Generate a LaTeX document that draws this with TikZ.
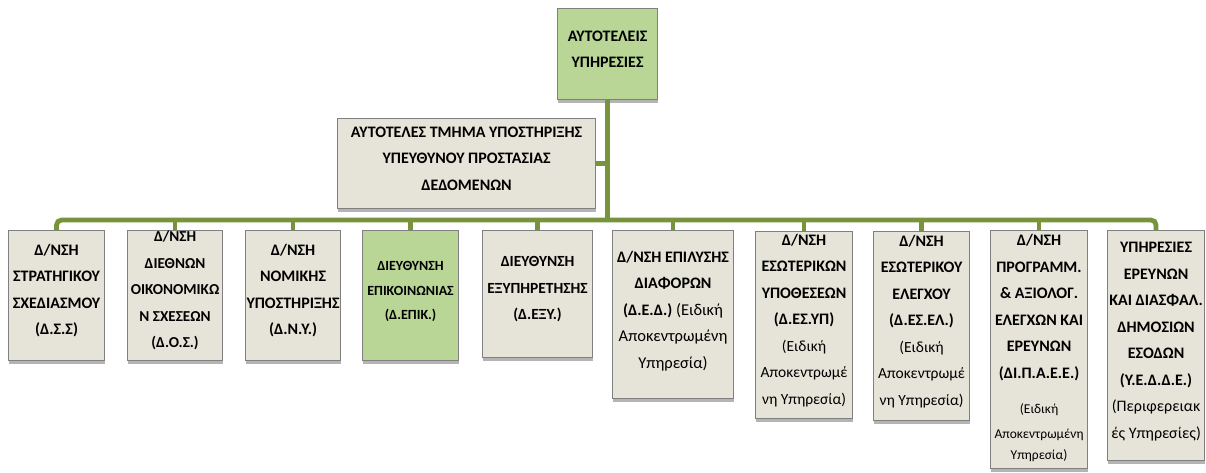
\documentclass[tikz,border=0pt]{standalone}
\usepackage{fontspec}
\setmainfont{Carlito}
\usetikzlibrary{shadows}
\definecolor{beige}{HTML}{E6E4D8}
\definecolor{lgreen}{HTML}{B9D697}
\definecolor{busgreen}{HTML}{77933C}
\definecolor{bord}{HTML}{808080}
\begin{document}
\begin{tikzpicture}[x=1pt,y=-1pt,
  box/.style={draw=bord, line width=1.1pt, fill=beige, anchor=north west, inner sep=0pt,
    align=center, text depth=10pt, font=\fontsize{16}{26.5}\selectfont\bfseries,
    drop shadow={shadow xshift=0.5pt, shadow yshift=-3pt, opacity=0.45, fill=black!65}},
  gbox/.style={box, fill=lgreen},
  conn/.style={draw=busgreen, line width=4.8pt}]
\path[use as bounding box] (0,0) rectangle (1206,472);
\node[gbox, minimum width=100pt, minimum height=91pt] (top) at (557,8) {ΑΥΤΟΤΕΛΕΙΣ\\ΥΠΗΡΕΣΙΕΣ};
\node[box, minimum width=258pt, minimum height=90pt] (data) at (337,118) {ΑΥΤΟΤΕΛΕΣ ΤΜΗΜΑ ΥΠΟΣΤΗΡΙΞΗΣ\\ΥΠΕΥΘΥΝΟΥ ΠΡΟΣΤΑΣΙΑΣ\\ΔΕΔΟΜΕΝΩΝ};
\node[box, minimum width=96pt, minimum height=130pt, text depth=12pt] (b1) at (8,230) {Δ/ΝΣΗ\\ΣΤΡΑΤΗΓΙΚΟΥ\\ΣΧΕΔΙΑΣΜΟΥ\\(Δ.Σ.Σ)};
\node[box, minimum width=95pt, minimum height=130pt, text depth=12pt, font=\fontsize{15.2}{26.5}\selectfont\bfseries] (b2) at (127,230) {Δ/ΝΣΗ\\ΔΙΕΘΝΩΝ\\ΟΙΚΟΝΟΜΙΚΩ\\Ν ΣΧΕΣΕΩΝ\\(Δ.Ο.Σ.)};
\node[box, minimum width=95pt, minimum height=130pt, text depth=12pt] (b3) at (245,230) {Δ/ΝΣΗ\\ΝΟΜΙΚΗΣ\\ΥΠΟΣΤΗΡΙΞΗΣ\\(Δ.Ν.Υ.)};
\node[gbox, minimum width=96pt, minimum height=130pt, font=\fontsize{14}{24.5}\selectfont\bfseries] (b4) at (362,230) {ΔΙΕΥΘΥΝΣΗ\\ΕΠΙΚΟΙΝΩΝΙΑΣ\\(Δ.ΕΠΙΚ.)};
\node[box, minimum width=110pt, minimum height=127pt, text depth=12pt, font=\fontsize{15.5}{26.5}\selectfont\bfseries] (b5) at (482,230) {ΔΙΕΥΘΥΝΣΗ\\ΕΞΥΠΗΡΕΤΗΣΗΣ\\(Δ.ΕΞΥ.)};
\node[box, minimum width=121pt, minimum height=168pt] (b6) at (612,230) {Δ/ΝΣΗ ΕΠΙΛΥΣΗΣ\\ΔΙΑΦΟΡΩΝ\\(Δ.Ε.Δ.) {\mdseries\fontsize{16.5}{26}\selectfont (Ειδική}\\{\mdseries\fontsize{16.5}{26}\selectfont Αποκεντρωμένη}\\{\mdseries\fontsize{16.5}{26}\selectfont Υπηρεσία)}};
\node[box, minimum width=97pt, minimum height=187pt, text depth=12pt] (b7) at (755,231) {Δ/ΝΣΗ\\ΕΣΩΤΕΡΙΚΩΝ\\ΥΠΟΘΕΣΕΩΝ\\(Δ.ΕΣ.ΥΠ)\\{\mdseries\fontsize{15.5}{26}\selectfont (Ειδική}\\{\mdseries\fontsize{15.5}{26}\selectfont Αποκεντρωμέ}\\{\mdseries\fontsize{15.5}{26}\selectfont νη Υπηρεσία)}};
\node[box, minimum width=96pt, minimum height=189pt, text depth=12pt] (b8) at (873,231) {Δ/ΝΣΗ\\ΕΣΩΤΕΡΙΚΟΥ\\ΕΛΕΓΧΟΥ\\(Δ.ΕΣ.ΕΛ.)\\{\mdseries\fontsize{15.5}{26}\selectfont (Ειδική}\\{\mdseries\fontsize{15.5}{26}\selectfont Αποκεντρωμέ}\\{\mdseries\fontsize{15.5}{26}\selectfont νη Υπηρεσία)}};
\node[box, minimum width=97pt, minimum height=238pt, text depth=5pt] (b9) at (990,230) {Δ/ΝΣΗ\\ΠΡΟΓΡΑΜΜ.\\\& ΑΞΙΟΛΟΓ.\\ΕΛΕΓΧΩΝ ΚΑΙ\\ΕΡΕΥΝΩΝ\\(ΔΙ.Π.Α.Ε.Ε.)\\[8.5pt]{\mdseries\fontsize{13.5}{20}\selectfont (Ειδική}\\[-1.5pt]{\mdseries\fontsize{13.5}{20}\selectfont Αποκεντρωμένη}\\[-5.5pt]{\mdseries\fontsize{13.5}{20}\selectfont Υπηρεσία)}};
\node[box, minimum width=97pt, minimum height=230pt] (b10) at (1107,230) {ΥΠΗΡΕΣΙΕΣ\\ΕΡΕΥΝΩΝ\\ΚΑΙ ΔΙΑΣΦΑΛ.\\ΔΗΜΟΣΙΩΝ\\ΕΣΟΔΩΝ\\(Υ.Ε.Δ.Δ.Ε.)\\{\mdseries\fontsize{16}{26}\selectfont (Περιφερειακ}\\{\mdseries\fontsize{16}{26}\selectfont ές Υπηρεσίες)}};
\coordinate (busy) at (607,220);
\draw[conn] (top.south) -- (top.south |- busy);
\draw[conn] (data.east) -- (data.east -| top.south);
\draw[conn, rounded corners=5pt] (b1.north) |- (busy) -| (b10.north);
\foreach \b in {b2,b3,b4,b5,b6,b7,b8,b9}
  \draw[conn] (\b.north) -- (\b.north |- busy);
\end{tikzpicture}
\end{document}
